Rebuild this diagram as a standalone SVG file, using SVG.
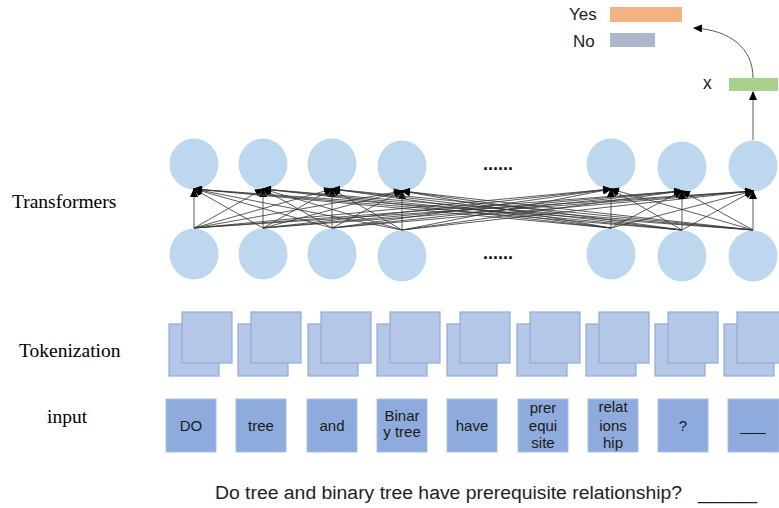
<svg xmlns="http://www.w3.org/2000/svg" width="779" height="508" viewBox="0 0 779 508">
<style>
.lbl{font-family:"Liberation Serif","Times New Roman",serif;font-size:19.5px;fill:#000}
.sans{font-family:"Liberation Sans",Arial,sans-serif;fill:#222}
.neuron{fill:#BDD7EE}
.tok{fill:#B4C7E7;stroke:#8FAADC;stroke-width:1.2}
.inp{fill:#8FAADC;stroke:#A9BFE6;stroke-width:1}
.it{font-family:"Liberation Sans",Arial,sans-serif;font-size:15px;fill:#1a1a1a;text-anchor:middle}
.c line{stroke:#333;stroke-width:0.8;marker-end:url(#ah)}
</style>
<defs>
<marker id="ah" markerUnits="userSpaceOnUse" markerWidth="9" markerHeight="8" refX="8" refY="4" orient="auto">
<path d="M0,0 L9,4 L0,8 Z" fill="#000"/>
</marker>
</defs>
<rect width="779" height="508" fill="#fff"/>

<text class="lbl" x="12" y="208">Transformers</text>
<text class="lbl" x="19" y="357">Tokenization</text>
<text class="lbl" x="47" y="423">input</text>

<g id="output">
<text class="sans" x="569" y="20" font-size="17">Yes</text>
<rect x="610" y="7" width="72" height="15" fill="#F4B183"/>
<text class="sans" x="573" y="47" font-size="17">No</text>
<rect x="610" y="33" width="45" height="14" fill="#ADB9CA"/>
</g>
<g id="x-vector">
<text class="sans" x="703" y="89" font-size="17.5">x</text>
<rect x="729" y="78" width="49" height="13" fill="#A9D18E"/>
</g>

<g id="top-layer">
<ellipse id="t1" class="neuron" cx="194" cy="164" rx="24.5" ry="25.5"/>
<ellipse id="t2" class="neuron" cx="263" cy="164" rx="24.5" ry="25.5"/>
<ellipse id="t3" class="neuron" cx="332" cy="164" rx="24.5" ry="25.5"/>
<ellipse id="t4" class="neuron" cx="402" cy="166" rx="24.5" ry="25.5"/>
<ellipse id="t5" class="neuron" cx="611" cy="164" rx="24.5" ry="25.5"/>
<ellipse id="t6" class="neuron" cx="682" cy="167" rx="24.5" ry="25.5"/>
<ellipse id="t7" class="neuron" cx="753" cy="166" rx="24.5" ry="25.5"/>
</g>
<g id="bottom-layer">
<ellipse id="b1" class="neuron" cx="194" cy="254" rx="24.5" ry="25.5"/>
<ellipse id="b2" class="neuron" cx="263" cy="254" rx="24.5" ry="25.5"/>
<ellipse id="b3" class="neuron" cx="332" cy="254" rx="24.5" ry="25.5"/>
<ellipse id="b4" class="neuron" cx="402" cy="256" rx="24.5" ry="25.5"/>
<ellipse id="b5" class="neuron" cx="611" cy="254" rx="24.5" ry="25.5"/>
<ellipse id="b6" class="neuron" cx="682" cy="256" rx="24.5" ry="25.5"/>
<ellipse id="b7" class="neuron" cx="753" cy="256" rx="24.5" ry="25.5"/>
</g>
<g id="ellipsis" font-family="Liberation Sans,Arial,sans-serif" font-weight="bold" font-size="18" fill="#111">
<text x="483" y="170">......</text>
<text x="483" y="259">......</text>
</g>

<g id="connectors" class="c">
<line x1="194" y1="228" x2="194" y2="189"/><line x1="194" y1="228" x2="263" y2="189"/><line x1="194" y1="228" x2="332" y2="189"/><line x1="194" y1="228" x2="402" y2="191"/><line x1="194" y1="228" x2="611" y2="189"/><line x1="194" y1="228" x2="682" y2="191"/><line x1="194" y1="228" x2="753" y2="191"/>
<line x1="263" y1="228" x2="194" y2="189"/><line x1="263" y1="228" x2="263" y2="189"/><line x1="263" y1="228" x2="332" y2="189"/><line x1="263" y1="228" x2="402" y2="191"/><line x1="263" y1="228" x2="611" y2="189"/><line x1="263" y1="228" x2="682" y2="191"/><line x1="263" y1="228" x2="753" y2="191"/>
<line x1="332" y1="228" x2="194" y2="189"/><line x1="332" y1="228" x2="263" y2="189"/><line x1="332" y1="228" x2="332" y2="189"/><line x1="332" y1="228" x2="402" y2="191"/><line x1="332" y1="228" x2="611" y2="189"/><line x1="332" y1="228" x2="682" y2="191"/><line x1="332" y1="228" x2="753" y2="191"/>
<line x1="402" y1="230" x2="194" y2="189"/><line x1="402" y1="230" x2="263" y2="189"/><line x1="402" y1="230" x2="332" y2="189"/><line x1="402" y1="230" x2="402" y2="191"/><line x1="402" y1="230" x2="611" y2="189"/><line x1="402" y1="230" x2="682" y2="191"/><line x1="402" y1="230" x2="753" y2="191"/>
<line x1="611" y1="228" x2="194" y2="189"/><line x1="611" y1="228" x2="263" y2="189"/><line x1="611" y1="228" x2="332" y2="189"/><line x1="611" y1="228" x2="402" y2="191"/><line x1="611" y1="228" x2="611" y2="189"/><line x1="611" y1="228" x2="682" y2="191"/><line x1="611" y1="228" x2="753" y2="191"/>
<line x1="682" y1="230" x2="194" y2="189"/><line x1="682" y1="230" x2="263" y2="189"/><line x1="682" y1="230" x2="332" y2="189"/><line x1="682" y1="230" x2="402" y2="191"/><line x1="682" y1="230" x2="611" y2="189"/><line x1="682" y1="230" x2="682" y2="191"/><line x1="682" y1="230" x2="753" y2="191"/>
<line x1="753" y1="230" x2="194" y2="189"/><line x1="753" y1="230" x2="263" y2="189"/><line x1="753" y1="230" x2="332" y2="189"/><line x1="753" y1="230" x2="402" y2="191"/><line x1="753" y1="230" x2="611" y2="189"/><line x1="753" y1="230" x2="682" y2="191"/><line x1="753" y1="230" x2="753" y2="191"/>
<line x1="753" y1="140" x2="753" y2="92"/>
<path d="M753,78 C753,48 730,30 694,28" fill="none" stroke="#444" stroke-width="0.9" marker-end="url(#ah)"/>
</g>

<g id="tokenization">
<g id="tk1"><rect class="tok" x="169" y="324" width="50" height="52"/><rect class="tok" x="182" y="312" width="50" height="51"/></g>
<g id="tk2"><rect class="tok" x="238" y="324" width="50" height="52"/><rect class="tok" x="251" y="312" width="50" height="51"/></g>
<g id="tk3"><rect class="tok" x="308" y="324" width="50" height="52"/><rect class="tok" x="321" y="312" width="50" height="51"/></g>
<g id="tk4"><rect class="tok" x="377" y="324" width="50" height="52"/><rect class="tok" x="390" y="312" width="50" height="51"/></g>
<g id="tk5"><rect class="tok" x="447" y="324" width="50" height="52"/><rect class="tok" x="460" y="312" width="50" height="51"/></g>
<g id="tk6"><rect class="tok" x="517" y="324" width="50" height="52"/><rect class="tok" x="530" y="312" width="50" height="51"/></g>
<g id="tk7"><rect class="tok" x="586" y="324" width="50" height="52"/><rect class="tok" x="599" y="312" width="50" height="51"/></g>
<g id="tk8"><rect class="tok" x="655" y="324" width="50" height="52"/><rect class="tok" x="668" y="312" width="50" height="51"/></g>
<g id="tk9"><rect class="tok" x="724" y="324" width="50" height="52"/><rect class="tok" x="737" y="312" width="50" height="51"/></g>
</g>

<g id="input">
<g id="in1"><rect class="inp" x="166" y="399" width="50" height="53"/><text class="it" x="191" y="431">DO</text></g>
<g id="in2"><rect class="inp" x="236" y="399" width="50" height="53"/><text class="it" x="261" y="431">tree</text></g>
<g id="in3"><rect class="inp" x="307" y="399" width="50" height="53"/><text class="it" x="332" y="431">and</text></g>
<g id="in4"><rect class="inp" x="377" y="399" width="50" height="53"/><text class="it" x="402" y="421" font-size="12.5">Binar</text><text class="it" x="402" y="437" font-size="12.5">y tree</text></g>
<g id="in5"><rect class="inp" x="447" y="399" width="50" height="53"/><text class="it" x="472" y="431">have</text></g>
<g id="in6"><rect class="inp" x="518" y="399" width="50" height="53"/><text class="it" x="543" y="413">prer</text><text class="it" x="543" y="431">equi</text><text class="it" x="543" y="448">site</text></g>
<g id="in7"><rect class="inp" x="588" y="399" width="50" height="53"/><text class="it" x="613" y="412">relat</text><text class="it" x="613" y="431">ions</text><text class="it" x="613" y="448">hip</text></g>
<g id="in8"><rect class="inp" x="658" y="399" width="50" height="53"/><text class="it" x="683" y="431">?</text></g>
<g id="in9"><rect class="inp" x="728" y="399" width="51" height="53"/><text class="it" x="753" y="431">___</text></g>
</g>

<g id="question" class="sans" font-size="18" fill="#111">
<text x="215" y="499" textLength="467" lengthAdjust="spacingAndGlyphs">Do tree and binary tree have prerequisite relationship?</text>
<text x="698" y="499" textLength="59" lengthAdjust="spacingAndGlyphs">______</text>
</g>
</svg>
